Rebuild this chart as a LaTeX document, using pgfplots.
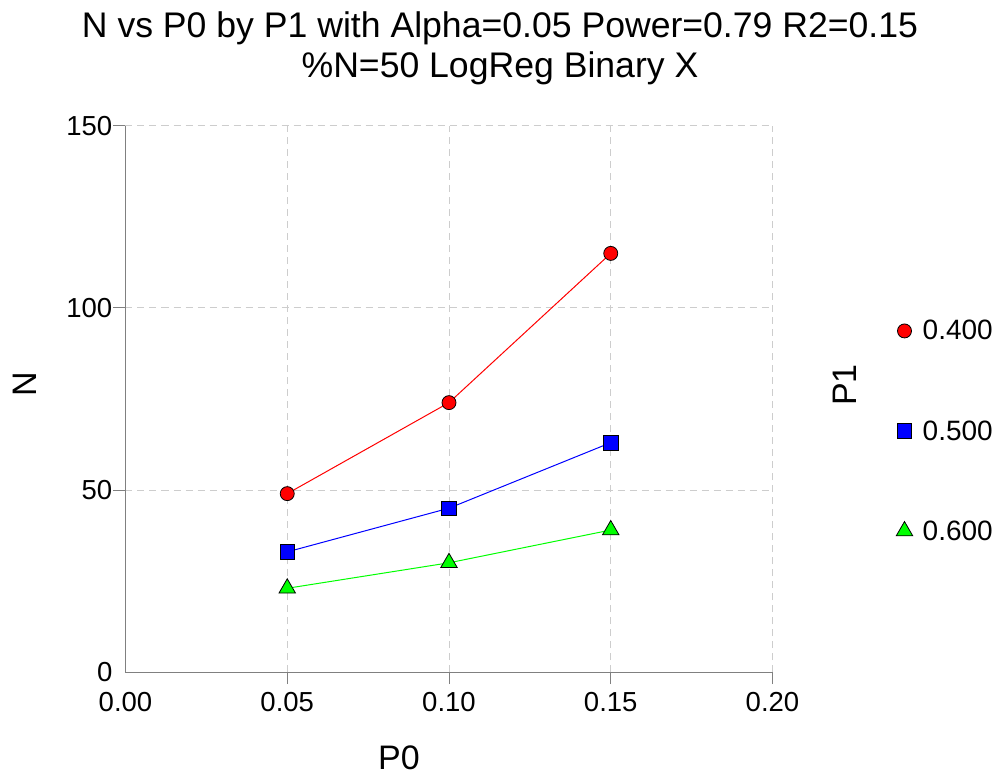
\documentclass[border=0pt]{standalone}
\usepackage{fontspec}
\setmainfont{Liberation Sans}
\usepackage{pgfplots}
\pgfplotsset{compat=1.18}
\definecolor{axgray}{RGB}{128,128,128}
\definecolor{gridgray}{RGB}{205,205,205}
\definecolor{pred}{RGB}{255,0,0}
\definecolor{pblue}{RGB}{0,0,255}
\definecolor{pgreen}{RGB}{0,255,0}
\begin{document}
\begin{tikzpicture}[x=1pt,y=1pt]
\useasboundingbox (0,0) rectangle (999,777);
\begin{axis}[
  at={(125.5pt,105pt)}, anchor=south west,
  scale only axis, width=647pt, height=546pt,
  xmin=0, xmax=0.2, ymin=0, ymax=150,
  axis x line*=bottom, axis y line*=left,
  axis line style={axgray, line width=1pt},
  xtick={0.05,0.1,0.15,0.2}, ytick={50,100,150},
  extra x ticks={0}, extra y ticks={0},
  extra tick style={major tick length=0pt, grid=none},
  tick align=outside, major tick length=12pt,
  major tick style={axgray, line width=1pt},
  grid=major,
  major grid style={gridgray, dash pattern=on 7pt off 5pt, line width=1pt},
  ticklabel style={font=\fontsize{27.5}{30}\selectfont, inner sep=1pt},
  /pgf/number format/assume math mode=true,
  xticklabel style={yshift=-7pt, /pgf/number format/fixed, /pgf/number format/fixed zerofill, /pgf/number format/precision=2},
  yticklabel style={/pgf/number format/fixed, /pgf/number format/precision=0},
  extra x tick style={xticklabel style={yshift=-12pt}},
  extra y tick style={yticklabel style={xshift=-12pt}},
  xlabel={P0}, ylabel={N},
  xlabel style={font=\fontsize{34}{36}\selectfont, at={(rel axis cs:0.4227,0)}, anchor=center, yshift=-86pt},
  ylabel style={font=\fontsize{34}{36}\selectfont, at={(rel axis cs:-0.1553,0.5275)}, anchor=center},
  legend style={at={(rel axis cs:1.191,0.4414)}, anchor=west, draw=none, fill=none,
    inner sep=0pt, font=\fontsize{28}{30}\selectfont, row sep=75pt,
    nodes={inner sep=2pt}},
  legend cell align=left,
  legend image code/.code={\draw[#1] plot coordinates {(7pt,0pt)}; \path (0pt,0pt) (23pt,0pt);},
  clip=false,
]
\addplot[pred, line width=1pt, mark=*, mark size=7pt, mark options={fill=pred, draw=black, line width=0.8pt}, forget plot]
  coordinates {(0.05,49) (0.10,74) (0.15,115)};
\addplot[pblue, line width=1pt, mark=square*, mark size=7.3pt, mark options={fill=pblue, draw=black, line width=0.8pt}, forget plot]
  coordinates {(0.05,33) (0.10,45) (0.15,63)};
\addplot[pgreen, line width=1pt, mark=triangle*, mark size=9.5pt, mark options={fill=pgreen, draw=black, line width=0.8pt}, forget plot]
  coordinates {(0.05,23) (0.10,30) (0.15,39)};
\addlegendimage{only marks, mark=*, mark size=7pt, mark options={fill=pred, draw=black, line width=0.8pt}}
\addlegendentry{0.400}
\addlegendimage{only marks, mark=square*, mark size=7.3pt, mark options={fill=pblue, draw=black, line width=0.8pt}}
\addlegendentry{0.500}
\addlegendimage{only marks, mark=triangle*, mark size=9.5pt, mark options={fill=pgreen, draw=black, line width=0.8pt}}
\addlegendentry{0.600}
\end{axis}
\node[anchor=base, font=\fontsize{35.6}{38}\selectfont] at (500,739) {N vs P0 by P1 with Alpha=0.05 Power=0.79 R2=0.15};
\node[anchor=base, font=\fontsize{35.6}{38}\selectfont] at (500,699) {\%N=50 LogReg Binary X};
\node[rotate=90, font=\fontsize{34}{36}\selectfont] at (845,392) {P1};
\end{tikzpicture}
\end{document}
